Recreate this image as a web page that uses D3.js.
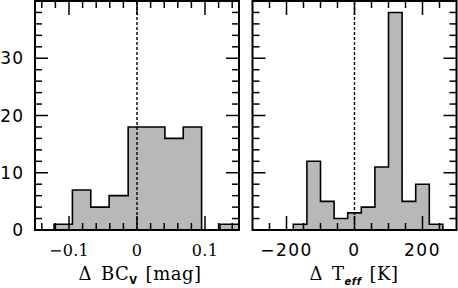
<!DOCTYPE html>
<html>
<head>
<meta charset="utf-8">
<script src="https://cdn.jsdelivr.net/npm/d3@7"></script>
<style>
  body { margin: 0; background: #fff; }
  svg { display: block; }
</style>
</head>
<body>
<div id="chart"></div>
<script>
// Histogram data
const bcEdges = [-0.122, -0.095, -0.068, -0.041, -0.013, 0.014, 0.041, 0.068, 0.095, 0.122, 0.15];
const bcCounts = [1, 7, 4, 6, 18, 18, 16, 18, 0, 1];
const teffEdges = [-180, -140, -100, -60, -20, 20, 60, 100, 140, 180, 220, 260];
const teffCounts = [1, 12, 5, 2, 3, 4, 11, 38, 5, 8, 1];

const yTickLabels = [0, 10, 20, 30];
const bcTickLabels = [-0.1, 0, 0.1];
const teffTickLabels = [-200, 0, 200];

const width = 458, height = 288;
const plotTop = 1, plotBottom = 230;

const svg = d3.select("#chart").append("svg")
    .attr("width", width)
    .attr("height", height);

const y = d3.scaleLinear().domain([0, 40]).range([plotBottom, plotTop]);

const panels = [
    {
        id: "bc", x: d3.scaleLinear().domain([-0.15, 0.15]).range([35, 239]),
        edges: bcEdges, counts: bcCounts,
        major: bcTickLabels, minor: d3.range(-0.14, 0.141, 0.02),
        fmt: d => d === 0 ? "0" : d3.format(".1f")(d).replace("-", "\u2212"),
        tickFont: "DejaVu Serif", tickSize: 16, spacing: 0.3, yLabels: true
    },
    {
        id: "teff", x: d3.scaleLinear().domain([-300, 300]).range([252.5, 456.5]),
        edges: teffEdges, counts: teffCounts,
        major: teffTickLabels, minor: d3.range(-250, 251, 50),
        fmt: d => String(d).replace("-", "\u2212"),
        tickFont: "DejaVu Sans", tickSize: 17, spacing: 1.5, yLabels: false
    }
];

panels.forEach(p => {
    const x = p.x;
    const g = svg.append("g");
    const [x0, x1] = x.range();

    g.append("clipPath").attr("id", "clip-" + p.id)
        .append("rect").attr("x", x0).attr("y", plotTop)
        .attr("width", x1 - x0).attr("height", plotBottom - plotTop);

    // step points of the histogram
    const pts = [];
    p.counts.forEach((c, i) => {
        pts.push([p.edges[i], c]);
        pts.push([p.edges[i + 1], c]);
    });

    const area = d3.area()
        .x(d => x(d[0]))
        .y0(y(0))
        .y1(d => y(d[1]));
    const line = d3.line()
        .x(d => x(d[0]))
        .y(d => y(d[1]));

    const hist = g.append("g").attr("clip-path", `url(#clip-${p.id})`);
    hist.append("path")
        .attr("d", area(pts))
        .attr("fill", "#b8b8b8");
    hist.append("path")
        .attr("d", line([[p.edges[0], 0], ...pts, [p.edges[p.edges.length - 1], 0]]))
        .attr("fill", "none")
        .attr("stroke", "#000")
        .attr("stroke-width", 1.6);

    // dashed zero line
    g.append("line")
        .attr("x1", x(0)).attr("x2", x(0))
        .attr("y1", y(0)).attr("y2", plotTop)
        .attr("stroke", "#000")
        .attr("stroke-width", 1.4)
        .attr("stroke-dasharray", "3,2");

    // ticks on all four sides, pointing inward
    const ticks = g.append("g").attr("stroke", "#000").attr("stroke-width", 1.5);
    const xTicks = p.minor.map(v => ({ v, len: p.major.some(m => Math.abs(m - v) < 1e-9) ? 14 : 7 }));
    xTicks.forEach(t => {
        ticks.append("line").attr("x1", x(t.v)).attr("x2", x(t.v))
            .attr("y1", plotBottom).attr("y2", plotBottom - t.len);
        ticks.append("line").attr("x1", x(t.v)).attr("x2", x(t.v))
            .attr("y1", plotTop).attr("y2", plotTop + t.len);
    });
    d3.range(2, 40, 2).forEach(v => {
        const len = v % 10 === 0 ? 13 : 7;
        ticks.append("line").attr("x1", x0).attr("x2", x0 + len)
            .attr("y1", y(v)).attr("y2", y(v));
        ticks.append("line").attr("x1", x1).attr("x2", x1 - len)
            .attr("y1", y(v)).attr("y2", y(v));
    });

    // frame
    g.append("rect")
        .attr("x", x0).attr("y", plotTop)
        .attr("width", x1 - x0).attr("height", plotBottom - plotTop)
        .attr("fill", "none")
        .attr("stroke", "#000")
        .attr("stroke-width", 2);

    // x tick labels
    g.selectAll(".xl").data(p.major).join("text")
        .attr("x", d => x(d))
        .attr("y", 256)
        .attr("text-anchor", "middle")
        .attr("font-family", p.tickFont)
        .attr("font-size", p.tickSize)
        .attr("letter-spacing", p.spacing)
        .text(p.fmt);

    if (p.yLabels) {
        g.selectAll(".yl").data(yTickLabels).join("text")
            .attr("x", 24)
            .attr("y", d => y(d) + 6)
            .attr("text-anchor", "end")
            .attr("font-family", "DejaVu Sans")
            .attr("font-size", 17)
            .attr("letter-spacing", 1)
            .text(d => d);
    }
});

// axis titles
const bcTitle = svg.append("text")
    .attr("x", 140).attr("y", 280)
    .attr("text-anchor", "middle")
    .attr("font-family", "DejaVu Serif")
    .attr("font-size", 18)
    .attr("letter-spacing", 0.5);
bcTitle.append("tspan").text("\u0394");
bcTitle.append("tspan").attr("dx", 9).text("BC");
bcTitle.append("tspan").attr("font-family", "DejaVu Sans").attr("font-weight", "bold")
    .attr("font-size", 10).attr("dy", 4).text("V");
bcTitle.append("tspan").attr("dx", 8).attr("dy", -4).text("[mag]");

const tTitle = svg.append("text")
    .attr("x", 354).attr("y", 280)
    .attr("text-anchor", "middle")
    .attr("font-family", "DejaVu Serif")
    .attr("font-size", 18)
    .attr("letter-spacing", 0.5);
tTitle.append("tspan").text("\u0394");
tTitle.append("tspan").attr("dx", 9).text("T");
tTitle.append("tspan").attr("font-family", "DejaVu Sans").attr("font-weight", "bold")
    .attr("font-style", "italic").attr("font-size", 10).attr("dy", 5).text("eff");
tTitle.append("tspan").attr("dx", 8).attr("dy", -5).text("[K]");
</script>
</body>
</html>
